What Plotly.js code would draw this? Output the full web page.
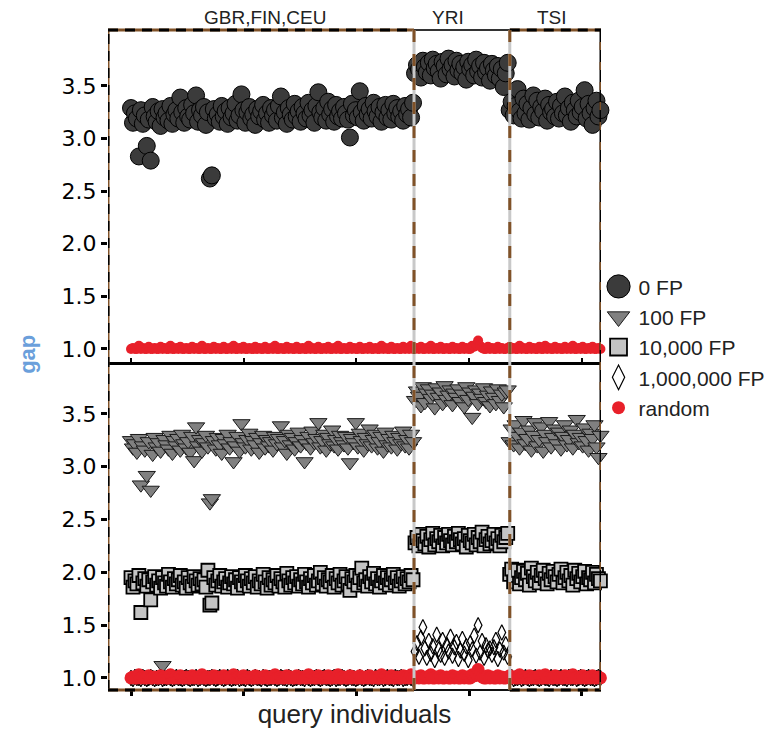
<!DOCTYPE html>
<html>
<head>
<meta charset="utf-8">
<script src="https://cdn.plot.ly/plotly-3.0.1.min.js"></script>
<style>html,body{margin:0;padding:0;background:#fff;}#chart{width:765px;height:730px;}</style>
</head>
<body>
<div id="chart"></div>
<script>
// ---- populations (labels on top) ----
const popNames = ["GBR,FIN,CEU", "YRI", "TSI"];

// ---- gap, 0 FP (top panel, circles) ----
const gap0_GBR = [
3.29,3.15,3.24,3.19,2.83,3.27,3.14,3.22,2.93,3.18,2.79,3.30,
3.21,3.16,3.26,3.12,3.28,3.20,3.24,3.17,3.31,3.14,3.23,3.27,
3.19,3.39,3.25,3.15,3.29,3.21,3.18,3.32,3.24,3.41,3.16,3.27,
3.22,3.30,3.13,3.25,2.62,2.65,3.28,3.19,3.23,3.16,3.31,3.21,
3.26,3.14,3.29,3.20,3.24,3.33,3.17,3.22,3.42,3.27,3.15,3.25,
3.30,3.19,3.23,3.13,3.28,3.21,3.26,3.32,3.18,3.24,3.15,3.29,
3.22,3.27,3.17,3.31,3.40,3.20,3.25,3.14,3.29,3.23,3.18,3.33,
3.21,3.26,3.16,3.30,3.24,3.19,3.34,3.22,3.27,3.15,3.31,3.44,
3.25,3.20,3.29,3.17,3.35,3.23,3.28,3.16,3.32,3.21,3.26,3.19,
3.30,3.24,3.18,3.01,3.33,3.22,3.27,3.20,3.45,3.25,3.17,3.31,
3.23,3.28,3.19,3.34,3.26,3.21,3.30,3.16,3.25,3.32,3.20,3.27,
3.18,3.33,3.24,3.29,3.21,3.26,3.17,3.31,3.23,3.28,3.20,3.34];
const gap0_YRI = [
3.62,3.70,3.66,3.58,3.74,3.68,3.63,3.72,3.60,3.75,3.67,3.71,
3.64,3.57,3.73,3.69,3.61,3.76,3.66,3.70,3.59,3.74,3.65,3.71,
3.62,3.68,3.56,3.73,3.66,3.70,3.60,3.75,3.64,3.69,3.58,3.72,
3.63,3.67,3.55,3.71,3.65,3.60,3.69,3.57,3.66,3.49,3.62,3.72];
const gap0_TSI = [
3.27,3.35,3.22,3.31,3.47,3.26,3.19,3.38,3.24,3.33,3.18,3.29,
3.41,3.23,3.36,3.20,3.30,3.26,3.38,3.17,3.32,3.25,3.28,3.21,
3.35,3.19,3.31,3.24,3.40,3.22,3.29,3.16,3.34,3.27,3.21,3.36,
3.25,3.30,3.46,3.19,3.33,3.24,3.13,3.29,3.36,3.21,3.27,3.24];

// ---- gap, 100 FP (bottom panel, triangles) ----
const gap100_GBR = [
3.25,3.18,3.22,3.14,3.27,2.83,3.20,3.16,2.92,3.24,2.78,3.12,
3.28,3.19,3.23,3.15,1.12,3.26,3.21,3.17,3.30,3.13,3.25,3.20,
3.27,3.16,3.31,3.22,3.18,3.24,3.14,3.29,3.06,3.38,3.20,3.26,
3.15,3.23,3.30,3.19,2.66,2.70,3.25,3.17,3.28,3.21,3.13,3.27,
3.22,3.31,3.18,3.24,3.05,3.20,3.29,3.15,3.41,3.23,3.19,3.26,
3.32,3.17,3.25,3.21,3.28,3.14,3.23,3.30,3.18,3.26,3.20,3.24,
3.16,3.29,3.22,3.27,3.39,3.19,3.25,3.13,3.31,3.21,3.28,3.17,
3.24,3.33,3.20,3.26,3.05,3.22,3.29,3.18,3.34,3.23,3.27,3.42,
3.19,3.25,3.31,3.16,3.28,3.22,3.35,3.20,3.26,3.17,3.30,3.24,
3.21,3.29,3.18,3.04,3.27,3.23,3.42,3.19,3.32,3.25,3.16,3.28,
3.22,3.36,3.20,3.26,3.31,3.18,3.24,3.29,3.15,3.33,3.21,3.27,
3.19,3.30,3.24,3.17,3.28,3.22,3.34,3.20,3.26,3.18,3.31,3.24];
const gap100_YRI = [
3.63,3.72,3.67,3.58,3.76,3.61,3.70,3.74,3.65,3.69,3.56,3.75,
3.66,3.71,3.60,3.77,3.64,3.68,3.73,3.59,3.70,3.66,3.74,3.62,
3.69,3.57,3.76,3.64,3.71,3.47,3.67,3.73,3.60,3.70,3.65,3.75,
3.62,3.68,3.58,3.72,3.66,3.60,3.74,3.63,3.69,3.57,3.71,3.73];
const gap100_TSI = [
3.24,3.36,3.21,3.40,3.29,3.18,3.33,3.44,3.22,3.27,3.35,3.16,
3.30,3.42,3.20,3.26,3.38,3.15,3.31,3.24,3.43,3.19,3.28,3.36,
3.22,3.33,3.17,3.29,3.40,3.21,3.26,3.35,3.18,3.31,3.45,3.23,
3.28,3.20,3.37,3.25,3.16,3.32,3.27,3.40,3.19,3.09,3.30,3.26];

// ---- gap, 10,000 FP (squares) ----
const gap10k_GBR = [
1.95,1.86,1.92,1.89,1.97,1.62,1.90,1.94,1.87,1.93,1.74,1.91,
1.96,1.88,1.92,1.85,1.95,1.90,1.87,1.98,1.91,1.86,1.94,1.89,
1.93,1.97,1.88,1.91,1.85,1.95,1.90,1.87,1.96,1.92,1.88,1.94,
1.89,1.93,1.86,2.02,1.69,1.71,1.95,1.88,1.92,1.97,1.87,1.91,
1.94,1.86,1.90,1.96,1.89,1.93,1.85,1.95,1.91,1.88,1.97,1.92,
1.87,1.94,1.90,1.96,1.86,1.92,1.89,1.98,1.91,1.85,1.95,1.88,
1.93,1.90,1.97,1.87,1.94,1.91,1.86,1.99,1.92,1.88,1.95,1.90,
1.96,1.87,1.93,1.89,1.98,1.91,1.86,1.94,1.90,1.97,1.88,1.92,
2.00,1.89,1.95,1.87,1.93,1.91,1.97,1.86,1.94,1.90,1.98,1.88,
1.92,1.96,1.89,1.83,1.94,1.91,1.97,1.88,1.95,2.04,1.90,1.93,
1.87,1.96,1.91,1.99,1.89,1.94,1.86,1.92,1.97,1.90,1.95,1.88,
1.93,1.98,1.90,1.95,1.87,1.92,1.96,1.89,1.94,1.91,1.97,1.93];
const gap10k_YRI = [
2.28,2.33,2.25,2.36,2.30,2.27,2.34,2.24,2.31,2.37,2.26,2.32,
2.29,2.35,2.25,2.33,2.28,2.36,2.30,2.26,2.34,2.29,2.37,2.31,
2.27,2.32,2.24,2.35,2.30,2.28,2.36,2.26,2.33,2.29,2.38,2.25,
2.31,2.34,2.27,2.30,2.36,2.28,2.32,2.25,2.35,2.29,2.33,2.37];
const gap10k_TSI = [
1.98,2.03,1.91,1.97,2.02,1.89,1.95,2.01,1.93,1.99,1.88,2.04,
1.96,1.92,2.00,1.90,1.97,2.02,1.94,1.89,1.99,1.93,2.01,1.96,
1.91,1.98,2.03,1.90,1.95,2.00,1.92,1.97,1.88,2.02,1.94,1.99,
1.91,1.96,2.01,1.89,1.95,1.93,2.00,1.90,1.98,1.94,1.92,1.97];

// ---- gap, 1,000,000 FP (diamonds) ----
const gap1M_GBR = [
1.00,0.99,1.01,1.00,1.00,0.99,1.01,1.00,0.99,1.00,1.01,1.00,
0.99,1.00,1.00,1.01,0.99,1.00,1.00,1.01,1.00,0.99,1.00,1.01,
1.00,1.00,0.99,1.00,1.01,1.00,0.99,1.00,1.00,1.01,0.99,1.00,
1.01,1.00,0.99,1.00,1.00,1.01,1.00,0.99,1.00,1.01,1.00,0.99,
1.00,1.01,1.00,0.99,1.00,1.00,1.01,0.99,1.00,1.00,0.99,1.01,
1.00,0.99,1.00,1.01,1.00,1.00,0.99,1.01,1.00,0.99,1.00,1.00,
1.01,1.00,0.99,1.00,1.01,1.00,1.00,0.99,1.01,1.00,0.99,1.00,
1.00,1.01,1.00,1.00,0.99,1.01,1.00,0.99,1.00,1.00,1.01,1.00,
0.99,1.00,1.01,1.00,1.00,0.99,1.00,1.01,0.99,1.00,1.00,1.01,
1.00,0.99,1.00,1.01,1.00,1.00,0.99,1.00,1.01,1.00,0.99,1.00,
1.01,1.00,1.00,0.99,1.01,1.00,1.00,1.01,0.99,1.00,1.01,1.00,
1.00,0.99,1.01,1.00,1.00,1.01,0.99,1.00,1.00,1.01,1.00,0.99];
const gap1M_YRI = [
1.25,1.33,1.20,1.38,1.48,1.28,1.19,1.35,1.23,1.30,1.17,1.41,
1.27,1.22,1.36,1.19,1.31,1.25,1.39,1.21,1.29,1.34,1.18,1.26,
1.37,1.23,1.30,1.17,1.33,1.27,1.40,1.21,1.50,1.24,1.35,1.19,
1.31,1.26,1.28,1.22,1.29,1.36,1.18,1.27,1.43,1.24,1.32,1.20];
const gap1M_TSI = [
1.00,1.01,0.99,1.00,1.00,1.01,0.99,1.00,1.01,1.00,0.99,1.00,
1.00,1.01,1.00,0.99,1.00,1.01,1.00,1.00,0.99,1.01,1.00,1.00,
0.99,1.00,1.01,1.00,1.00,0.99,1.01,1.00,1.00,1.01,0.99,1.00,
1.01,1.00,0.99,1.00,1.01,1.00,1.00,0.99,1.00,1.01,1.00,1.00];

// ---- gap, random ----
const gapRand_GBR = [
1.00,1.01,1.00,1.00,1.03,1.00,1.01,1.00,1.00,1.02,1.00,1.00,
1.01,1.00,1.00,1.02,1.00,1.01,1.00,1.00,1.03,1.00,1.00,1.01,
1.00,1.02,1.00,1.00,1.01,1.00,1.00,1.02,1.00,1.01,1.00,1.00,
1.03,1.00,1.00,1.01,1.00,1.00,1.02,1.00,1.01,1.00,1.00,1.02,
1.00,1.00,1.01,1.00,1.03,1.00,1.00,1.01,1.00,1.02,1.00,1.00,
1.01,1.00,1.00,1.02,1.00,1.01,1.00,1.00,1.02,1.00,1.00,1.01,
1.00,1.03,1.00,1.00,1.01,1.00,1.00,1.02,1.00,1.01,1.00,1.00,
1.02,1.00,1.00,1.01,1.00,1.00,1.03,1.00,1.01,1.00,1.00,1.02,
1.00,1.00,1.01,1.00,1.02,1.00,1.00,1.01,1.00,1.03,1.00,1.00,
1.01,1.00,1.00,1.02,1.00,1.01,1.00,1.00,1.02,1.00,1.00,1.01,
1.00,1.02,1.00,1.00,1.01,1.00,1.00,1.03,1.00,1.01,1.00,1.00,
1.02,1.00,1.00,1.01,1.00,1.00,1.02,1.00,1.01,1.00,1.03,1.00];
const gapRand_YRI = [
1.00,1.01,1.00,1.02,1.00,1.00,1.01,1.00,1.03,1.00,1.00,1.01,
1.00,1.02,1.00,1.00,1.01,1.00,1.00,1.02,1.00,1.01,1.00,1.00,
1.02,1.00,1.01,1.00,1.00,1.03,1.02,1.04,1.08,1.03,1.01,1.00,
1.00,1.02,1.00,1.01,1.00,1.00,1.02,1.00,1.01,1.00,1.00,1.01];
const gapRand_TSI = [
1.02,1.00,1.01,1.00,1.00,1.03,1.00,1.01,1.00,1.00,1.02,1.00,
1.01,1.00,1.00,1.02,1.00,1.00,1.03,1.00,1.01,1.00,1.00,1.02,
1.00,1.01,1.00,1.00,1.02,1.00,1.01,1.00,1.03,1.00,1.00,1.01,
1.00,1.02,1.00,1.00,1.01,1.00,1.02,1.00,1.00,1.01,1.00,1.02];

const legendNames = ["0 FP", "100 FP", "10,000 FP", "1,000,000 FP", "random"];
const yTickVals = [1.0, 1.5, 2.0, 2.5, 3.0, 3.5];

// ---- x positions = individual index within the ordered query set ----
const nG = gap0_GBR.length, nY = gap0_YRI.length, nT = gap0_TSI.length;
function xs(g, y, t) {
  const out = [];
  g.forEach((v, i) => out.push(i));
  y.forEach((v, i) => out.push(nG + i));
  t.forEach((v, i) => out.push(nG + nY + i));
  return out;
}
function cat(g, y, t) { return g.concat(y, t); }

const xMin = -11.66, xMax = 238.3;
const bYRI = nG - 0.5, bTSI = nG + nY + 0.05;

const data = [
  { type: 'scatter', mode: 'markers', name: legendNames[0], xaxis: 'x2', yaxis: 'y2',
    x: xs(gap0_GBR, gap0_YRI, gap0_TSI), y: cat(gap0_GBR, gap0_YRI, gap0_TSI), cliponaxis: false,
    marker: { symbol: 'circle', size: 17, color: '#3b3b3b', line: { color: '#000', width: 1 } } },
  { type: 'scatter', mode: 'markers', name: legendNames[1], xaxis: 'x', yaxis: 'y',
    x: xs(gap100_GBR, gap100_YRI, gap100_TSI), y: cat(gap100_GBR, gap100_YRI, gap100_TSI), cliponaxis: false,
    marker: { symbol: 'triangle-down', size: 15, color: '#808080', line: { color: '#1a1a1a', width: 1 } } },
  { type: 'scatter', mode: 'markers', name: legendNames[2], xaxis: 'x', yaxis: 'y',
    x: xs(gap10k_GBR, gap10k_YRI, gap10k_TSI), y: cat(gap10k_GBR, gap10k_YRI, gap10k_TSI), cliponaxis: false,
    marker: { symbol: 'square', size: 13, color: '#c4c4c4', line: { color: '#000', width: 1.8 } } },
  { type: 'scatter', mode: 'markers', name: legendNames[3], xaxis: 'x', yaxis: 'y',
    x: xs(gap1M_GBR, gap1M_YRI, gap1M_TSI), y: cat(gap1M_GBR, gap1M_YRI, gap1M_TSI), cliponaxis: false,
    marker: { symbol: 'diamond-tall-open', size: 11, color: '#000', line: { color: '#000', width: 1.2 } } },
  { type: 'scatter', mode: 'markers', name: legendNames[4], showlegend: false, xaxis: 'x2', yaxis: 'y2',
    x: xs(gapRand_GBR, gapRand_YRI, gapRand_TSI), y: cat(gapRand_GBR, gapRand_YRI, gapRand_TSI), cliponaxis: false,
    marker: { symbol: 'circle', size: 10, color: '#e8202a', line: { width: 0 } } },
  { type: 'scatter', mode: 'markers', name: legendNames[4], xaxis: 'x', yaxis: 'y',
    x: xs(gapRand_GBR, gapRand_YRI, gapRand_TSI), y: cat(gapRand_GBR, gapRand_YRI, gapRand_TSI), cliponaxis: false,
    marker: { symbol: 'circle', size: 13, color: '#e8202a', line: { width: 0 } } }
];

const brown = '#805228';
function seg(x0, x1, y0, y1, color, dash, w) {
  return { type: 'line', xref: 'x', yref: 'paper', x0: x0, x1: x1, y0: y0, y1: y1,
           line: { color: color, width: w, dash: dash }, layer: 'above' };
}
const shapes = [
  seg(xMin, xMin, 0, 1, brown, 'solid', 3), seg(xMin, xMin, 0, 1, '#000', '10px,7px', 3),
  seg(xMin, bYRI, 1, 1, brown, 'solid', 3), seg(xMin, bYRI, 1, 1, '#000', '10px,7px', 3),
  seg(xMin, bYRI, 0, 0, brown, 'solid', 3), seg(xMin, bYRI, 0, 0, '#000', '10px,7px', 3),
  seg(bTSI, xMax, 1, 1, brown, 'solid', 3), seg(bTSI, xMax, 1, 1, '#000', '10px,7px', 3),
  seg(bTSI, xMax, 0, 0, brown, 'solid', 3), seg(bTSI, xMax, 0, 0, '#000', '10px,7px', 3),
  seg(xMax, xMax, 0, 1, '#000', 'solid', 3), seg(xMax, xMax, 0, 1, brown, '8px,12px', 3),
  seg(bYRI, bTSI, 1, 1, '#333', 'solid', 2),
  seg(bYRI, bTSI, 0, 0, '#111', 'solid', 2),
  seg(bYRI, bYRI, 0, 1, '#c8c8c8', 'solid', 3), seg(bYRI, bYRI, 0, 1, brown, '12px,12px', 3),
  seg(bTSI, bTSI, 0, 1, '#c8c8c8', 'solid', 3), seg(bTSI, bTSI, 0, 1, brown, '12px,12px', 3)
];

const tickFont = { family: 'DejaVu Sans', size: 22, color: '#000' };
const yCommon = {
  tickmode: 'array', tickvals: yTickVals, tickformat: '.1f', ticks: 'outside', ticklen: 6, tickwidth: 3,
  tickcolor: '#000', tickfont: tickFont, showgrid: false, zeroline: false, showline: false
};
const xTicks = [0, 200 / 3.5, 400 / 3.5, 600 / 3.5, 800 / 3.5];

const labelFont = { family: 'Liberation Sans', size: 19, color: '#222' };
const layout = {
  width: 765, height: 730,
  margin: { l: 108, r: 164, t: 30, b: 40, autoexpand: false },
  paper_bgcolor: '#fff', plot_bgcolor: 'rgba(0,0,0,0)',
  font: { family: 'Liberation Sans', color: '#222' },
  showlegend: true,
  legend: { x: 0.995, xanchor: 'left', y: 0.642, yanchor: 'top', font: { family: 'Liberation Sans', size: 21, color: '#222' },
            bgcolor: 'rgba(0,0,0,0)', itemsizing: 'trace', tracegroupgap: 0 },
  xaxis: { domain: [0, 1], anchor: 'y', range: [xMin, xMax], tickmode: 'array', tickvals: xTicks, showticklabels: false,
           ticks: 'outside', ticklen: 5, tickwidth: 3, tickcolor: '#000', showgrid: false, zeroline: false, showline: false,
           title: { text: 'query individuals', font: { family: 'Liberation Sans', size: 26, color: '#222' }, standoff: 9 } },
  xaxis2: { domain: [0, 1], anchor: 'y2', matches: 'x', range: [xMin, xMax], tickmode: 'array', tickvals: xTicks, showticklabels: false,
            ticks: 'inside', ticklen: 4, tickwidth: 2, tickcolor: '#000', showgrid: false, zeroline: false,
            showline: true, linecolor: '#000', linewidth: 3 },
  yaxis: Object.assign({ domain: [0, 0.497], anchor: 'x', range: [0.886, 3.992] }, yCommon),
  yaxis2: Object.assign({ domain: [0.497, 1], anchor: 'x2', range: [0.876, 4.032] }, yCommon),
  shapes: shapes,
  annotations: [
    { text: popNames[0], xref: 'x', yref: 'paper', x: 67.9, y: 1, yanchor: 'bottom', showarrow: false, font: labelFont },
    { text: popNames[1], xref: 'x', yref: 'paper', x: 160.7, y: 1, yanchor: 'bottom', showarrow: false, font: labelFont },
    { text: popNames[2], xref: 'x', yref: 'paper', x: 213.4, y: 1, yanchor: 'bottom', showarrow: false, font: labelFont },
    { text: '<b>gap</b>', xref: 'paper', yref: 'paper', x: -0.162, y: 0.508, xanchor: 'center', yanchor: 'middle',
      textangle: -90, showarrow: false, font: { family: 'Liberation Sans', size: 22, color: '#6b9fdb' } }
  ]
};

const gd = document.getElementById('chart');
Plotly.newPlot(gd, data, layout, { staticPlot: true }).then(function () {
  const scales = [1.45, 1.3, 1.3, 1.6, 1.0];
  gd.querySelectorAll('.legend .traces').forEach(function (t, i) {
    t.querySelectorAll('.legendpoints path').forEach(function (p) {
      const tf = p.getAttribute('transform') || '';
      p.setAttribute('transform', tf + ' scale(' + scales[i] + ')');
      p.style.vectorEffect = 'non-scaling-stroke';
    });
  });
});
</script>
</body>
</html>
